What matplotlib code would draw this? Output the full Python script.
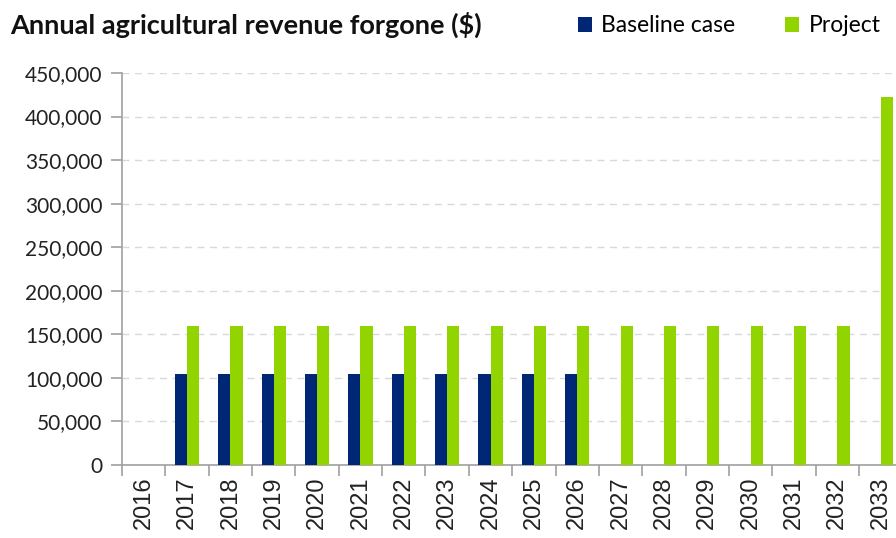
import numpy as np
import matplotlib.pyplot as plt
from matplotlib.ticker import FuncFormatter, FixedLocator, NullFormatter

years = [str(y) for y in range(2016, 2034)]
baseline = [0, 105000, 105000, 105000, 105000, 105000, 105000, 105000, 105000, 105000, 105000,
            0, 0, 0, 0, 0, 0, 0]
project = [0, 160000, 160000, 160000, 160000, 160000, 160000, 160000, 160000, 160000, 160000,
           160000, 160000, 160000, 160000, 160000, 160000, 422000]

navy = '#002776'
green = '#92D400'

fig = plt.figure(figsize=(8.96, 5.38), dpi=100)
ax = fig.add_axes([122 / 896, 73 / 538, 780.4 / 896, 392 / 538])

x = np.arange(len(years))
w = 0.28
b1 = ax.bar(x - w / 2, baseline, width=w, color=navy, label='Baseline case', zorder=3)
b2 = ax.bar(x + w / 2, project, width=w, color=green, label='Project', zorder=3)

ax.set_xlim(-0.5, len(years) - 0.5)
ax.set_ylim(0, 450000)
ax.set_yticks(np.arange(0, 450001, 50000))
ax.yaxis.set_major_formatter(FuncFormatter(lambda v, p: f'{int(v):,}'))
ax.yaxis.grid(True, linestyle=(0, (5, 4)), color='#d9d9d9', linewidth=1, zorder=0)

# category labels centred, ticks at boundaries
ax.set_xticks(x)
ax.set_xticklabels(years, rotation=90, fontsize=17, family='Liberation Sans', color='#222222')
ax.tick_params(axis='x', which='major', length=0, pad=8)
ax.xaxis.set_minor_locator(FixedLocator(np.arange(-0.5, len(years), 1)))
ax.xaxis.set_minor_formatter(NullFormatter())
ax.tick_params(axis='x', which='minor', length=8, color='#a0a0a0', width=1.2)
ax.tick_params(axis='y', length=8, color='#a0a0a0', width=1.2, labelsize=15, pad=6,
               labelcolor='#222222')
for lab in ax.get_yticklabels():
    lab.set_family('Lato')

for s in ['top', 'right']:
    ax.spines[s].set_visible(False)
for s in ['left', 'bottom']:
    ax.spines[s].set_color('#a0a0a0')
    ax.spines[s].set_linewidth(1.2)

fig.text(10 / 896, 1 - 25 / 538, 'Annual agricultural revenue forgone ($)', fontsize=19.5,
         fontweight='bold', family='Lato', va='center', ha='left', color='#111111')

fig.legend(handles=[b1, b2], loc='center left', bbox_to_anchor=(578 / 896, 1 - 26 / 538),
           ncol=2, frameon=False, handlelength=0.6, handleheight=0.6, handletextpad=0.4,
           columnspacing=2.2, borderpad=0, borderaxespad=0,
           prop={'family': 'Lato', 'size': 16.5})

fig.savefig('out.png', dpi=100)
